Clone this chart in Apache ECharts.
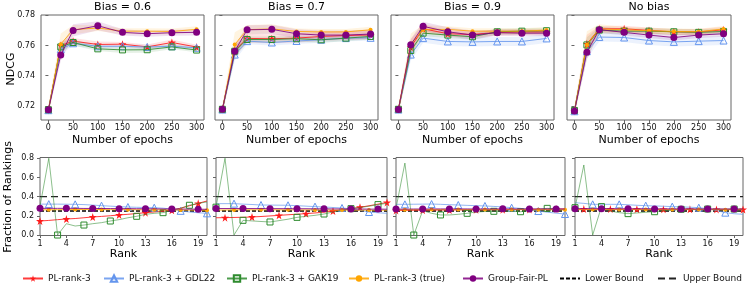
<!DOCTYPE html>
<html><head><meta charset="utf-8">
<script src="https://cdn.jsdelivr.net/npm/echarts@6/dist/echarts.min.js"></script>
<style>html,body{margin:0;padding:0;background:#fff}#c{width:747px;height:290px}</style>
</head><body><div id="c"></div>
<script>
// ---------- categories / ticks ----------
const epochs = [0, 25, 50, 100, 150, 200, 250, 300];
const epochTicks = [0, 50, 100, 150, 200, 250, 300];
const ndcgTicks = [0.72, 0.74, 0.76, 0.78];
const ranks = [1,2,3,4,5,6,7,8,9,10,11,12,13,14,15,16,17,18,19,20];
const rankTicks = [1, 4, 7, 10, 13, 16, 19];
const fracTicks = [0, 0.2, 0.4, 0.6, 0.8];
const panelTitles = ['Bias = 0.6', 'Bias = 0.7', 'Bias = 0.9', 'No bias'];
const methodNames = ['PL-rank-3', 'PL-rank-3 + GDL22', 'PL-rank-3 + GAK19', 'PL-rank-3 (true)', 'Group-Fair-PL'];
const boundNames = ['Lower Bound', 'Upper Bound'];
const lowerBound = 0.25;
const upperBound = 0.4;

// ---------- NDCG (top row) ----------
const ndcg06_plr3 = [0.7175, 0.7600, 0.7629, 0.7607, 0.7609, 0.7591, 0.7620, 0.7590];
const ndcg06_gdl  = [0.7172, 0.7575, 0.7615, 0.7595, 0.7595, 0.7590, 0.7595, 0.7585];
const ndcg06_gak  = [0.7175, 0.7591, 0.7620, 0.7578, 0.7571, 0.7572, 0.7591, 0.7570];
const ndcg06_true = [0.7170, 0.7609, 0.7705, 0.7716, 0.7695, 0.7695, 0.7693, 0.7707];
const ndcg06_gfpl = [0.7175, 0.7538, 0.7700, 0.7731, 0.7687, 0.7678, 0.7685, 0.7687];

const ndcg07_plr3 = [0.7178, 0.7567, 0.7647, 0.7645, 0.7649, 0.7660, 0.7666, 0.7670];
const ndcg07_gdl  = [0.7176, 0.7540, 0.7629, 0.7620, 0.7630, 0.7638, 0.7649, 0.7651];
const ndcg07_gak  = [0.7178, 0.7562, 0.7640, 0.7640, 0.7645, 0.7638, 0.7649, 0.7660];
const ndcg07_true = [0.7172, 0.7607, 0.7705, 0.7710, 0.7693, 0.7690, 0.7690, 0.7704];
const ndcg07_gfpl = [0.7178, 0.7562, 0.7704, 0.7707, 0.7678, 0.7669, 0.7669, 0.7676];

const ndcg09_plr3 = [0.7178, 0.7590, 0.7711, 0.7678, 0.7673, 0.7687, 0.7690, 0.7690];
const ndcg09_gdl  = [0.7176, 0.7540, 0.7649, 0.7627, 0.7624, 0.7627, 0.7627, 0.7647];
const ndcg09_gak  = [0.7178, 0.7567, 0.7682, 0.7669, 0.7658, 0.7691, 0.7695, 0.7698];
const ndcg09_true = [0.7172, 0.7610, 0.7705, 0.7707, 0.7695, 0.7695, 0.7695, 0.7702];
const ndcg09_gfpl = [0.7176, 0.7605, 0.7727, 0.7691, 0.7669, 0.7685, 0.7682, 0.7682];

const ndcg00_plr3 = [0.7167, 0.7611, 0.7710, 0.7711, 0.7700, 0.7690, 0.7690, 0.7704];
const ndcg00_gdl  = [0.7165, 0.7562, 0.7656, 0.7653, 0.7633, 0.7624, 0.7629, 0.7633];
const ndcg00_gak  = [0.7170, 0.7604, 0.7702, 0.7695, 0.7695, 0.7691, 0.7687, 0.7693];
const ndcg00_true = [0.7165, 0.7605, 0.7710, 0.7704, 0.7698, 0.7693, 0.7691, 0.7710];
const ndcg00_gfpl = [0.7167, 0.7556, 0.7705, 0.7687, 0.7669, 0.7653, 0.7669, 0.7678];

// half-widths of shaded bands
const std06_plr3 = [0.0015, 0.003, 0.002, 0.002, 0.0015, 0.0015, 0.002, 0.0015];
const std06_gdl  = [0.0015, 0.003, 0.002, 0.0015, 0.0015, 0.0015, 0.0015, 0.0015];
const std06_gak  = [0.0015, 0.003, 0.002, 0.0015, 0.002, 0.002, 0.0015, 0.0015];
const std06_true = [0.004, 0.007, 0.003, 0.002, 0.002, 0.002, 0.002, 0.002];
const std06_gfpl = [0.002, 0.004, 0.004, 0.003, 0.002, 0.002, 0.002, 0.002];

const std07_plr3 = [0.002, 0.004, 0.003, 0.003, 0.003, 0.003, 0.003, 0.003];
const std07_gdl  = [0.002, 0.004, 0.002, 0.002, 0.002, 0.002, 0.002, 0.002];
const std07_gak  = [0.002, 0.004, 0.002, 0.002, 0.002, 0.002, 0.002, 0.002];
const std07_true = [0.004, 0.008, 0.003, 0.003, 0.002, 0.002, 0.002, 0.002];
const std07_gfpl = [0.002, 0.004, 0.003, 0.003, 0.003, 0.003, 0.003, 0.003];

const std09_plr3 = [0.002, 0.005, 0.003, 0.002, 0.002, 0.002, 0.002, 0.002];
const std09_gdl  = [0.002, 0.004, 0.003, 0.003, 0.003, 0.003, 0.003, 0.003];
const std09_gak  = [0.002, 0.004, 0.002, 0.002, 0.002, 0.002, 0.002, 0.002];
const std09_true = [0.004, 0.007, 0.003, 0.002, 0.002, 0.002, 0.002, 0.002];
const std09_gfpl = [0.002, 0.004, 0.003, 0.003, 0.003, 0.002, 0.002, 0.002];

const std00_plr3 = [0.002, 0.006, 0.002, 0.002, 0.002, 0.002, 0.002, 0.002];
const std00_gdl  = [0.002, 0.005, 0.003, 0.003, 0.003, 0.003, 0.003, 0.003];
const std00_gak  = [0.002, 0.005, 0.002, 0.002, 0.002, 0.002, 0.002, 0.002];
const std00_true = [0.004, 0.009, 0.003, 0.002, 0.002, 0.002, 0.002, 0.002];
const std00_gfpl = [0.002, 0.005, 0.002, 0.002, 0.002, 0.002, 0.002, 0.002];

// ---------- Fraction of rankings (bottom row) ----------
const frac06_plr3 = [0.146,0.152,0.160,0.167,0.172,0.180,0.188,0.194,0.201,0.209,0.216,0.224,0.233,0.240,0.248,0.257,0.280,0.305,0.330,0.355];
const frac06_gdl  = [0.322,0.322,0.322,0.321,0.320,0.317,0.312,0.306,0.301,0.296,0.292,0.289,0.287,0.285,0.280,0.270,0.252,0.240,0.232,0.226];
const frac06_gak  = [0.300,0.800,0.000,0.118,0.094,0.104,0.118,0.129,0.146,0.160,0.180,0.195,0.216,0.226,0.233,0.257,0.278,0.310,0.330,0.345];
const frac06_true = [0.262,0.263,0.264,0.265,0.266,0.266,0.266,0.265,0.265,0.265,0.264,0.264,0.263,0.263,0.262,0.262,0.261,0.260,0.260,0.259];
const frac06_gfpl = [0.278,0.278,0.278,0.278,0.278,0.277,0.277,0.276,0.276,0.275,0.275,0.274,0.274,0.273,0.272,0.272,0.271,0.270,0.269,0.268];

const frac07_plr3 = [0.180,0.181,0.183,0.185,0.188,0.193,0.199,0.205,0.211,0.217,0.223,0.230,0.238,0.250,0.262,0.275,0.289,0.305,0.322,0.340];
const frac07_gdl  = [0.327,0.327,0.327,0.322,0.318,0.313,0.312,0.311,0.310,0.306,0.301,0.296,0.292,0.287,0.282,0.272,0.258,0.240,0.232,0.226];
const frac07_gak  = [0.290,0.800,0.000,0.153,0.147,0.141,0.136,0.150,0.165,0.184,0.195,0.205,0.219,0.240,0.258,0.275,0.287,0.300,0.317,0.330];
const frac07_true = [0.260,0.261,0.262,0.263,0.263,0.263,0.263,0.263,0.263,0.262,0.262,0.262,0.261,0.261,0.261,0.260,0.260,0.260,0.259,0.259];
const frac07_gfpl = [0.276,0.276,0.276,0.276,0.276,0.275,0.275,0.275,0.274,0.274,0.274,0.273,0.273,0.272,0.272,0.271,0.271,0.270,0.270,0.269];

const frac09_plr3 = [0.256,0.257,0.258,0.259,0.260,0.261,0.261,0.262,0.262,0.263,0.263,0.264,0.264,0.265,0.266,0.267,0.268,0.269,0.270,0.272];
const frac09_gdl  = [0.320,0.320,0.321,0.322,0.323,0.320,0.316,0.313,0.309,0.306,0.303,0.298,0.293,0.285,0.278,0.265,0.250,0.238,0.228,0.219];
const frac09_gak  = [0.280,0.750,0.000,0.254,0.226,0.209,0.209,0.216,0.226,0.240,0.245,0.247,0.250,0.247,0.243,0.255,0.268,0.278,0.272,0.260];
const frac09_true = [0.263,0.264,0.265,0.265,0.265,0.265,0.265,0.265,0.265,0.265,0.265,0.265,0.265,0.265,0.264,0.264,0.264,0.264,0.263,0.263];
const frac09_gfpl = [0.270,0.270,0.271,0.271,0.272,0.272,0.272,0.272,0.272,0.271,0.272,0.272,0.273,0.272,0.272,0.272,0.272,0.272,0.272,0.271];

const frac00_plr3 = [0.268,0.270,0.270,0.270,0.270,0.270,0.269,0.269,0.269,0.269,0.268,0.268,0.268,0.268,0.268,0.267,0.267,0.267,0.267,0.266];
const frac00_gdl  = [0.337,0.330,0.320,0.320,0.320,0.320,0.315,0.310,0.306,0.303,0.300,0.296,0.293,0.290,0.285,0.275,0.255,0.233,0.222,0.216];
const frac00_gak  = [0.285,0.730,0.000,0.296,0.250,0.233,0.223,0.230,0.237,0.243,0.254,0.260,0.268,0.268,0.268,0.271,0.268,0.268,0.271,0.268];
const frac00_true = [0.264,0.265,0.265,0.265,0.265,0.265,0.265,0.265,0.265,0.265,0.265,0.265,0.265,0.265,0.265,0.265,0.264,0.264,0.264,0.264];
const frac00_gfpl = [0.275,0.274,0.274,0.274,0.274,0.273,0.273,0.273,0.273,0.272,0.272,0.272,0.272,0.272,0.271,0.271,0.271,0.271,0.271,0.270];

// ---------- tables built from the arrays ----------
const ndcgPanels = [
  [ndcg06_plr3, ndcg06_gdl, ndcg06_gak, ndcg06_true, ndcg06_gfpl],
  [ndcg07_plr3, ndcg07_gdl, ndcg07_gak, ndcg07_true, ndcg07_gfpl],
  [ndcg09_plr3, ndcg09_gdl, ndcg09_gak, ndcg09_true, ndcg09_gfpl],
  [ndcg00_plr3, ndcg00_gdl, ndcg00_gak, ndcg00_true, ndcg00_gfpl]];
const stdPanels = [
  [std06_plr3, std06_gdl, std06_gak, std06_true, std06_gfpl],
  [std07_plr3, std07_gdl, std07_gak, std07_true, std07_gfpl],
  [std09_plr3, std09_gdl, std09_gak, std09_true, std09_gfpl],
  [std00_plr3, std00_gdl, std00_gak, std00_true, std00_gfpl]];
const fracPanels = [
  [frac06_plr3, frac06_gdl, frac06_gak, frac06_true, frac06_gfpl],
  [frac07_plr3, frac07_gdl, frac07_gak, frac07_true, frac07_gfpl],
  [frac09_plr3, frac09_gdl, frac09_gak, frac09_true, frac09_gfpl],
  [frac00_plr3, frac00_gdl, frac00_gak, frac00_true, frac00_gfpl]];

// ---------- styling ----------
const FONT = 'DejaVu Sans';
const STAR = 'path://M50,0 L61,35 L98,35 L68,57 L79,91 L50,70 L21,91 L32,57 L2,35 L39,35 Z';
const styles = [
  {color: '#ff1a1a', symbol: STAR, size: 8, hollow: false},
  {color: '#6495ed', symbol: 'triangle', size: 7, hollow: true},
  {color: '#2e8b2e', symbol: 'rect', size: 6, hollow: true},
  {color: '#ffa500', symbol: 'circle', size: 4, hollow: false},
  {color: '#800080', symbol: 'circle', size: 7, hollow: false}
];
const botLineOpacity = [0.85, 0.7, 0.55, 0.85, 0.85];
const markOffsets = [[0,1,2,1,0],[1,2,0,2,0],[0,1,2,1,0],[1,2,0,2,0]];
const topBoxes = [[41,204],[215,378],[391,554],[567,731]];
const botBoxes = [[40,207],[216,387],[396,565],[575,743]];
const TOP_Y = 15, TOP_H = 105, BOT_Y = 157.5, BOT_H = 78;
const AX = '#666', TXT = '#111';

const grids = [], xAxes = [], yAxes = [], series = [], graphics = [];

function axisCommon() {
  return {axisLine: {show: false}, splitLine: {show: false}};
}

topBoxes.forEach((b, p) => {
  grids.push({left: b[0], top: TOP_Y, width: b[1]-b[0], height: TOP_H, show: true, borderColor: AX, borderWidth: 1});
  xAxes.push(Object.assign(axisCommon(), {type: 'value', gridIndex: p, min: -15, max: 315,
    axisTick: {show: true, length: 3, lineStyle: {color: AX}, customValues: epochTicks},
    axisLabel: {show: true, fontSize: 8, color: TXT, fontFamily: FONT, margin: 4, customValues: epochTicks}}));
  yAxes.push(Object.assign(axisCommon(), {type: 'value', gridIndex: p, min: 0.7107, max: 0.7802,
    axisTick: {show: true, length: 3, lineStyle: {color: AX}, customValues: ndcgTicks},
    axisLabel: {show: p === 0, fontSize: 8, color: TXT, fontFamily: FONT, margin: 6, customValues: ndcgTicks,
      formatter: v => v.toFixed(2)}}));
});
botBoxes.forEach((b, p) => {
  const gi = p + 4;
  grids.push({left: b[0], top: BOT_Y, width: b[1]-b[0], height: BOT_H, show: true, borderColor: AX, borderWidth: 1});
  xAxes.push(Object.assign(axisCommon(), {type: 'value', gridIndex: gi, min: 1, max: 20,
    axisTick: {show: true, length: 3, lineStyle: {color: AX}, customValues: rankTicks},
    axisLabel: {show: true, fontSize: 8, color: TXT, fontFamily: FONT, margin: 4, customValues: rankTicks}}));
  yAxes.push(Object.assign(axisCommon(), {type: 'value', gridIndex: gi, min: -0.005, max: 0.808,
    axisTick: {show: true, length: 3, lineStyle: {color: AX}, customValues: fracTicks},
    axisLabel: {show: p === 0, fontSize: 8, color: TXT, fontFamily: FONT, margin: 6, customValues: fracTicks,
      formatter: v => v.toFixed(1)}}));
});

function bandSeries(gi, xs, mean, sd, color) {
  return {
    type: 'custom', xAxisIndex: gi, yAxisIndex: gi, silent: true, z: 1, clip: true,
    data: xs.map((x, i) => [x, mean[i] - sd[i], mean[i] + sd[i]]),
    renderItem: (params, api) => {
      if (params.dataIndex !== 0) return null;
      const up = xs.map((x, i) => api.coord([x, mean[i] + sd[i]]));
      const lo = xs.map((x, i) => api.coord([x, mean[i] - sd[i]])).reverse();
      return {type: 'polygon', shape: {points: up.concat(lo)}, style: {fill: color, opacity: 0.12}};
    }
  };
}

function lineSeries(gi, name, xs, ys, st, markFn, z, lineOp) {
  return {
    type: 'line', name: name, xAxisIndex: gi, yAxisIndex: gi, z: z,
    data: xs.map((x, i) => markFn(i) ? [x, ys[i]] : {value: [x, ys[i]], symbol: 'none'}),
    symbol: st.symbol, symbolSize: st.size, showSymbol: true, showAllSymbol: true,
    lineStyle: {color: st.color, width: 1, opacity: lineOp},
    itemStyle: {color: st.hollow ? 'rgba(255,255,255,0)' : st.color, borderColor: st.color, borderWidth: st.hollow ? 1 : 0},
    emphasis: {disabled: true}
  };
}

// top row
for (let p = 0; p < 4; p++) {
  for (let s = 0; s < 5; s++) {
    series.push(bandSeries(p, epochs, ndcgPanels[p][s], stdPanels[p][s], styles[s].color));
  }
  for (let s = 0; s < 5; s++) {
    series.push(lineSeries(p, methodNames[s], epochs, ndcgPanels[p][s], styles[s], () => true, 3 + s, 0.85));
  }
}
// bottom row
for (let p = 0; p < 4; p++) {
  const gi = p + 4;
  series.push({type: 'line', name: boundNames[0], xAxisIndex: gi, yAxisIndex: gi, z: 2,
    data: [[ranks[0], lowerBound], [ranks[ranks.length-1], lowerBound]], symbol: 'none',
    lineStyle: {color: '#000', width: 1.6, type: [4, 2]}, itemStyle: {color: '#000'}});
  series.push({type: 'line', name: boundNames[1], xAxisIndex: gi, yAxisIndex: gi, z: 2,
    data: [[ranks[0], upperBound], [ranks[ranks.length-1], upperBound]], symbol: 'none',
    lineStyle: {color: '#222', width: 1.4, type: [7, 4]}, itemStyle: {color: '#222'}});
  for (let s = 0; s < 5; s++) {
    const off = markOffsets[p][s];
    series.push(lineSeries(gi, methodNames[s], ranks, fracPanels[p][s], styles[s],
      i => i % 3 === off, 3 + s, botLineOpacity[s]));
  }
}

// text labels
const txt = (text, x, y, size, rot) => ({type: 'text', x: x, y: y, rotation: rot || 0, silent: true,
  style: {text: text, font: size + 'px "' + FONT + '"', fill: '#000', align: 'center', verticalAlign: 'middle'}});
topBoxes.forEach((b, p) => {
  const cx = (b[0] + b[1]) / 2;
  graphics.push(txt(panelTitles[p], cx, 7, 11));
  graphics.push(txt('Number of epochs', cx, 140, 11));
});
botBoxes.forEach((b) => {
  graphics.push(txt('Rank', (b[0] + b[1]) / 2, 254, 11));
});
graphics.push(txt('NDCG', 11, 69, 11, Math.PI / 2));
graphics.push(txt('Fraction of Rankings', 8, 197, 11, Math.PI / 2));

// legends: one component per entry
const legendNames = methodNames.concat(boundNames);
const legendLefts = [22, 103, 226, 348, 462, 559, 657];
const legends = legendNames.map((n, i) => ({
  data: [i >= 5 ? {name: n, itemStyle: {opacity: 0}} : n],
  left: legendLefts[i], top: 274, padding: 0, itemWidth: 20, itemHeight: 8, itemGap: 0,
  selectedMode: false, textStyle: {fontSize: 9, fontFamily: FONT, color: TXT}
}));

const chart = echarts.init(document.getElementById('c'), null, {renderer: 'canvas'});
chart.setOption({
  animation: false,
  textStyle: {fontFamily: FONT},
  grid: grids, xAxis: xAxes, yAxis: yAxes, series: series,
  legend: legends, graphic: graphics
});
</script></body></html>
